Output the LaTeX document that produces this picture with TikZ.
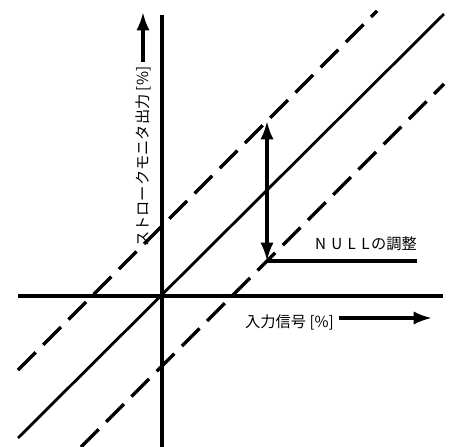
\documentclass[tikz,border=0pt]{standalone}
\usepackage{fontspec}
\setmainfont{Noto Sans CJK JP}
\usepackage{tikz}
\usetikzlibrary{arrows.meta,positioning,calc}
\tikzset{
  axis/.style={line width=3.2pt},
  ideal/.style={line width=2.4pt},
  limit/.style={line width=2.8pt,dash pattern=on 0.75cm off 0.32cm},
  arr/.style={-{Latex[length=5.5mm,width=4mm]},line width=2.8pt},
  dblarr/.style={{Latex[length=5.5mm,width=4mm]}-{Latex[length=5.5mm,width=4mm]},line width=2.8pt},
  lbl/.style={font=\fontsize{13}{15}\selectfont,inner sep=0pt}
}

\begin{document}
\begin{tikzpicture}[x=0.03cm,y=-0.03cm]
  \useasboundingbox (0,0) rectangle (463,447);

  % axes
  \coordinate (xl) at (18,296);
  \coordinate (xr) at (443,296);
  \coordinate (yt) at (162,15);
  \coordinate (yb) at (162,447);
  \draw[axis] (xl) -- (xr);
  \draw[axis] (yt) -- (yb);

  % characteristic lines
  \coordinate (s1) at (18,438);
  \coordinate (s2) at (444,14);
  \draw[ideal] (s1) -- (s2);

  \coordinate (u1) at (18,370);
  \coordinate (u2) at (377,11);
  \draw[limit] (u1) -- (u2);

  \coordinate (l1) at (81,447);
  \coordinate (l2) at (444,84);
  \draw[limit] (l1) -- (l2);

  % null adjustment
  \coordinate (top) at (267,121);
  \coordinate (bot) at (267,261);
  \coordinate (nend) at (417,261);
  \draw[dblarr] (bot) -- (top);
  \draw[axis] (bot) -- (nend);
  \node[lbl,anchor=south east] (null) at (417,251)
    {N\hspace{0.35em}U\hspace{0.35em}L\hspace{0.35em}L\hspace{0.1em}の調整};

  % axis labels
  \node[lbl,anchor=west] (xlab) at (245,322) {入力信号 [\%]};
  \coordinate (xa) at (432,318);
  \draw[arr] ([xshift=4pt]xlab.east |- xa) -- (xa);

  \node[lbl,rotate=90,anchor=west] (ylab) at (143,247) {ストロークモニタ出力 [\%]};
  \coordinate (ya) at (143,12);
  \draw[arr] ([yshift=4pt]ylab.east) -- (ya);
\end{tikzpicture}
\end{document}
